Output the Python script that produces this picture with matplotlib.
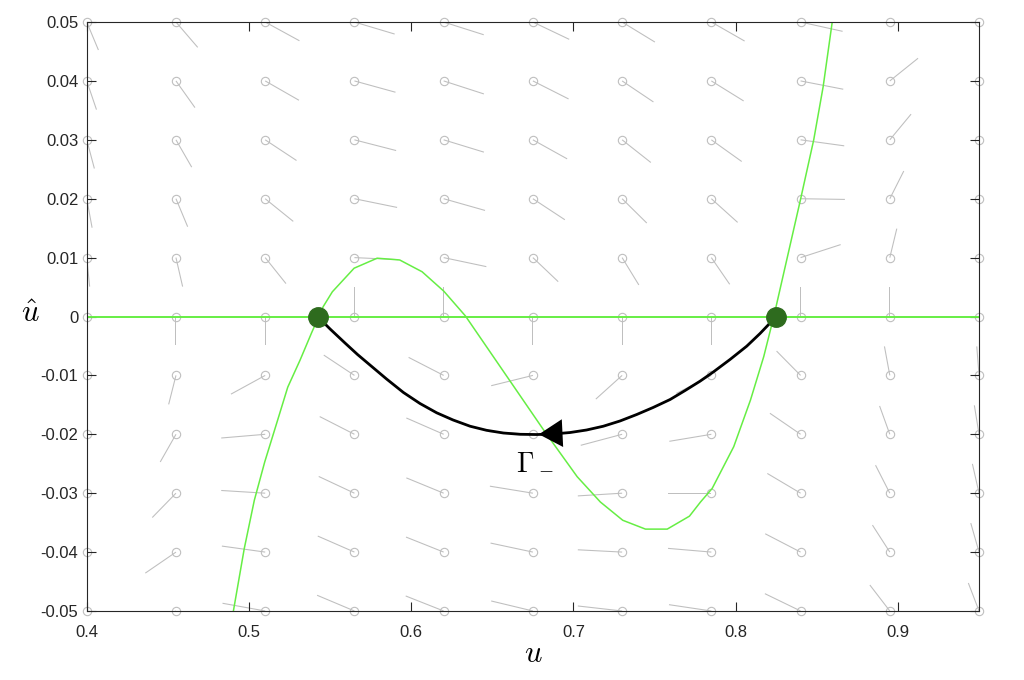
"""Phase plane with nullclines and heteroclinic orbit Gamma_-."""

import matplotlib

matplotlib.use("Agg")
import matplotlib.pyplot as plt
import numpy as np

# grid of the direction field
u_grid = [0.40, 0.455, 0.51, 0.565, 0.62, 0.675, 0.73, 0.785, 0.84, 0.895, 0.95]
uhat_grid = [0.05, 0.04, 0.03, 0.02, 0.01, 0.0, -0.01, -0.02, -0.03, -0.04, -0.05]

# field components (rows: uhat from 0.05 down to -0.05, cols: u_grid)
field_du = [
    [0.0072, 0.0134, 0.0211, 0.0248, 0.0247, 0.0224, 0.0202, 0.0205, 0.0259, 0.0197, 0.0234],
    [0.0060, 0.0117, 0.0208, 0.0253, 0.0248, 0.0220, 0.0193, 0.0199, 0.0263, 0.0174, 0.0222],
    [0.0047, 0.0097, 0.0193, 0.0257, 0.0248, 0.0211, 0.0177, 0.0187, 0.0269, 0.0131, 0.0185],
    [0.0033, 0.0072, 0.0173, 0.0263, 0.0255, 0.0197, 0.0152, 0.0162, 0.0273, 0.0086, 0.0136],
    [0.0018, 0.0041, 0.0128, 0.0271, 0.0263, 0.0156, 0.0103, 0.0113, 0.0247, 0.0043, 0.0074],
    [0.0, 0.0, 0.0, 0.0, 0.0, 0.0, 0.0, 0.0, 0.0, 0.0, 0.0],
    [-0.0025, -0.0045, -0.0211, -0.0189, -0.0216, -0.0257, -0.0162, -0.0216, -0.0148, -0.0033, -0.0014],
    [-0.0049, -0.0097, -0.0271, -0.0214, -0.0230, -0.0271, -0.0255, -0.0259, -0.0189, -0.0063, -0.0029],
    [-0.0086, -0.0146, -0.0271, -0.0220, -0.0230, -0.0265, -0.0273, -0.0267, -0.0205, -0.0088, -0.0041],
    [-0.0123, -0.0189, -0.0267, -0.0226, -0.0232, -0.0261, -0.0273, -0.0267, -0.0218, -0.0107, -0.0051],
    [-0.0154, -0.0222, -0.0263, -0.0230, -0.0234, -0.0257, -0.0273, -0.0261, -0.0220, -0.0123, -0.0066],
]
field_duhat = [
    [-0.00475, -0.00430, -0.00318, -0.00204, -0.00216, -0.00294, -0.00340, -0.00323, -0.00158, 0.00374, 0.00238],
    [-0.00487, -0.00453, -0.00328, -0.00192, -0.00221, -0.00306, -0.00357, -0.00340, -0.00141, 0.00385, 0.00289],
    [-0.00487, -0.00464, -0.00351, -0.00182, -0.00209, -0.00323, -0.00385, -0.00368, -0.00102, 0.00436, 0.00374],
    [-0.00492, -0.00475, -0.00385, -0.00148, -0.00199, -0.00357, -0.00413, -0.00402, -0.00012, 0.00470, 0.00425],
    [-0.00492, -0.00492, -0.00441, -0.00034, -0.00153, -0.00408, -0.00464, -0.00453, 0.00221, 0.00492, 0.00475],
    [-0.00492, -0.00492, -0.00492, 0.00504, 0.00504, -0.00492, -0.00492, -0.00492, 0.00504, 0.00504, 0.00504],
    [-0.00492, -0.00492, -0.00318, 0.00345, 0.00306, -0.00175, -0.00402, -0.00306, 0.00413, 0.00492, 0.00492],
    [-0.00484, -0.00470, -0.00063, 0.00301, 0.00277, 0.00046, -0.00187, -0.00119, 0.00357, 0.00481, 0.00492],
    [-0.00458, -0.00413, 0.00046, 0.00284, 0.00260, 0.00119, -0.00046, 0.0, 0.00335, 0.00475, 0.00498],
    [-0.00425, -0.00357, 0.00102, 0.00272, 0.00255, 0.00153, 0.00039, 0.00063, 0.00311, 0.00458, 0.00492],
    [-0.00374, -0.00306, 0.00131, 0.00267, 0.00255, 0.00170, 0.00085, 0.00107, 0.00294, 0.00441, 0.00475],
]

# cubic nullcline
cubic_u = [0.4904, 0.4971, 0.5033, 0.5097, 0.5171, 0.5239, 0.5315, 0.5387, 0.5458, 0.5514,
           0.5648, 0.5790, 0.5929, 0.6067, 0.6201, 0.6334, 0.6817, 0.7023, 0.7166, 0.7304,
           0.7444, 0.7578, 0.7715, 0.7783, 0.7855, 0.7988, 0.8091, 0.8173, 0.8235, 0.8399,
           0.8481, 0.8539, 0.8595]
cubic_uhat = [-0.0500, -0.0394, -0.0312, -0.0247, -0.0181, -0.0120, -0.0074, -0.0027, 0.0017, 0.0042,
              0.0082, 0.0099, 0.0096, 0.0076, 0.0043, 0.0001, -0.0193, -0.0272, -0.0315, -0.0346,
              -0.0361, -0.0361, -0.0339, -0.0315, -0.0292, -0.0221, -0.0142, -0.0068, 0.0000, 0.0198,
              0.0300, 0.0390, 0.0500]

# heteroclinic orbit Gamma_-
orbit_u = [0.5423, 0.5500, 0.5592, 0.5669, 0.5746, 0.5848, 0.5952, 0.6054, 0.6157, 0.6258,
           0.6363, 0.6464, 0.6568, 0.6671, 0.6774, 0.6874, 0.6979, 0.7081, 0.7184, 0.7287,
           0.7390, 0.7491, 0.7596, 0.7688, 0.7780, 0.7862, 0.7965, 0.8068, 0.8150, 0.8212,
           0.8249]
orbit_uhat = [0.0, -0.00212, -0.00450, -0.00645, -0.00824, -0.01061, -0.01290, -0.01477, -0.01635, -0.01757,
              -0.01863, -0.01932, -0.01978, -0.02000, -0.02004, -0.01995, -0.01970, -0.01927, -0.01863, -0.01774,
              -0.01664, -0.01545, -0.01409, -0.01257, -0.01099, -0.00942, -0.00730, -0.00504, -0.00289, -0.00110,
              0.0]

# equilibria
eq_u = [0.5423, 0.8249]
eq_uhat = [0.0, 0.0]

xticks = [0.4, 0.5, 0.6, 0.7, 0.8, 0.9]
yticks = [0.05, 0.04, 0.03, 0.02, 0.01, 0.0, -0.01, -0.02, -0.03, -0.04, -0.05]
ytick_labels = ["0.05", "0.04", "0.03", "0.02", "0.01", "0",
                "-0.01", "-0.02", "-0.03", "-0.04", "-0.05"]

plt.rcParams["mathtext.fontset"] = "cm"
plt.rcParams["font.family"] = ["Liberation Sans", "DejaVu Sans"]

fig = plt.figure(figsize=(10.24, 6.8), dpi=100)
ax = fig.add_axes([0.0847, 0.1015, 0.8714, 0.8661])

UU, VV = np.meshgrid(u_grid, uhat_grid)
gray = "#bfbfbf"
ax.quiver(UU, VV, np.array(field_du), np.array(field_duhat),
          angles="xy", scale_units="xy", scale=1, color=gray,
          width=0.0012, headwidth=0, headlength=0, headaxislength=0, zorder=1)
ax.plot(UU.ravel(), VV.ravel(), "o", ms=6, mfc="none", mec=gray, mew=0.8,
        clip_on=False, zorder=1)

green = "#66ee44"
ax.axhline(0, color=green, lw=1.4, zorder=2)
ax.plot(cubic_u, cubic_uhat, color=green, lw=1.1, zorder=2)

ax.plot(orbit_u, orbit_uhat, color="black", lw=2.0, zorder=3)
ax.annotate("", xy=(0.6787, -0.0200), xytext=(0.6935, -0.0198),
            arrowprops=dict(arrowstyle="-|>,head_length=1.7,head_width=1.0",
                            mutation_scale=10, color="black", lw=0, shrinkA=0, shrinkB=0),
            zorder=4)
ax.plot(eq_u, eq_uhat, "o", ms=14, color="#2e6b1e", zorder=5)

ax.text(0.6763, -0.0246, r"$\Gamma_-$", fontsize=20, ha="center", va="center", zorder=5)

ax.set_xlim(0.4, 0.95)
ax.set_ylim(-0.05, 0.05)
ax.set_xticks(xticks)
ax.set_xticklabels([f"{t:g}" for t in xticks])
ax.set_yticks(yticks)
ax.set_yticklabels(ytick_labels)
ax.tick_params(direction="in", length=6.5, width=0.8, top=True, right=True,
               labelsize=12, colors="#262626", pad=6)
ax.tick_params(axis="x", pad=10)
for spine in ax.spines.values():
    spine.set_edgecolor("#262626")
    spine.set_linewidth(0.8)

ax.set_xlabel(r"$u$", fontsize=22)
ax.xaxis.set_label_coords(0.5, -0.048)
ax.set_ylabel(r"$\hat{u}$", fontsize=22, rotation=0, va="center", ha="center")
ax.yaxis.set_label_coords(-0.063, 0.505)

fig.savefig("out.png", dpi=100)
